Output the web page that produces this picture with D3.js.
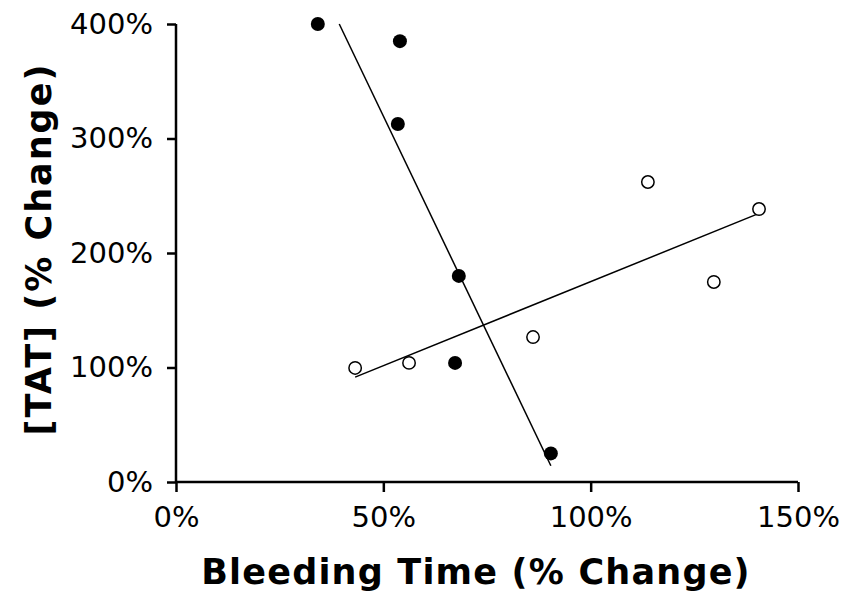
<!DOCTYPE html>
<html>
<head>
<meta charset="utf-8">
<script src="https://cdn.jsdelivr.net/npm/d3@7"></script>
<style>
  body { margin: 0; background: #fff; }
  text { font-family: "DejaVu Sans", Verdana, sans-serif; fill: #000; }
</style>
</head>
<body>
<svg width="844" height="595"></svg>
<script>
const svg = d3.select("svg");

// bleeding time (% change) vs [TAT] (% change)
const filledX = [34.2, 54.0, 53.5, 68.2, 67.3, 90.4];
const filledY = [400, 385, 312.7, 180, 104, 25];
const openX = [43.2, 56.2, 86.1, 113.8, 129.7, 140.6];
const openY = [99.6, 104, 126.6, 262, 174.7, 238.4];

const xTicks = [0, 50, 100, 150];
const yTicks = [0, 100, 200, 300, 400];

const x = d3.scaleLinear().domain([0, 150]).range([176, 798]);
const y = d3.scaleLinear().domain([0, 400]).range([482, 24]);

// least squares fit, drawn over the x range of the points, clipped to the plot
function fit(xs, ys) {
    const mx = d3.mean(xs), my = d3.mean(ys);
    let sxy = 0, sxx = 0;
    xs.forEach((v, i) => {
        sxy += (v - mx) * (ys[i] - my);
        sxx += (v - mx) * (v - mx);
    });
    const b = sxy / sxx;
    const a = my - b * mx;
    let x0 = d3.min(xs), x1 = d3.max(xs);
    const f = v => a + b * v;
    const clip = v => {
        const yv = f(v);
        if (yv > 400) return (400 - a) / b;
        if (yv < 0) return (0 - a) / b;
        return v;
    };
    x0 = clip(x0);
    x1 = clip(x1);
    return [[x0, f(x0)], [x1, f(x1)]];
}

const line = d3.line().x(d => x(d[0])).y(d => y(d[1]));

svg.append("path")
    .attr("d", line(fit(filledX, filledY)))
    .attr("fill", "none")
    .attr("stroke", "#000")
    .attr("stroke-width", 1.5);

svg.append("path")
    .attr("d", line(fit(openX, openY)))
    .attr("fill", "none")
    .attr("stroke", "#000")
    .attr("stroke-width", 1.5);

// axes
const xAxis = svg.append("g")
    .attr("transform", `translate(0,${y(0)})`)
    .call(d3.axisBottom(x).tickValues(xTicks).tickSize(10).tickPadding(14).tickFormat(d => d + "%"));
const yAxis = svg.append("g")
    .attr("transform", `translate(${x(0)},0)`)
    .call(d3.axisLeft(y).tickValues(yTicks).tickSize(9).tickPadding(14).tickFormat(d => d + "%"));

[xAxis, yAxis].forEach(g => {
    g.select(".domain").attr("stroke-width", 2.5);
    g.selectAll(".tick line").attr("stroke-width", 2.5);
    g.selectAll(".tick text")
        .style("font-family", '"DejaVu Sans", Verdana, sans-serif')
        .attr("font-size", 29);
});
xAxis.select(".domain").attr("d", `M${x(0)},0H${x(150)}`);
yAxis.select(".domain").attr("d", `M0,${y(0)}V${y(400)}`);
xAxis.selectAll(".tick text").attr("dy", "0.71em");

// points
svg.selectAll(".filled")
    .data(filledX)
    .join("circle")
    .attr("class", "filled")
    .attr("cx", d => x(d))
    .attr("cy", (d, i) => y(filledY[i]))
    .attr("r", 7)
    .attr("fill", "#000");

svg.selectAll(".open")
    .data(openX)
    .join("circle")
    .attr("class", "open")
    .attr("cx", d => x(d))
    .attr("cy", (d, i) => y(openY[i]))
    .attr("r", 6.2)
    .attr("fill", "#fff")
    .attr("stroke", "#000")
    .attr("stroke-width", 1.5);

// axis titles
svg.append("text")
    .attr("x", 476)
    .attr("y", 584)
    .attr("text-anchor", "middle")
    .attr("font-size", 35)
    .attr("font-weight", "bold")
    .attr("letter-spacing", 1.2)
    .text("Bleeding Time (% Change)");

svg.append("text")
    .attr("transform", "translate(51,249) rotate(-90)")
    .attr("text-anchor", "middle")
    .attr("font-size", 35)
    .attr("font-weight", "bold")
    .attr("letter-spacing", 2)
    .text("[TAT] (% Change)");
</script>
</body>
</html>
